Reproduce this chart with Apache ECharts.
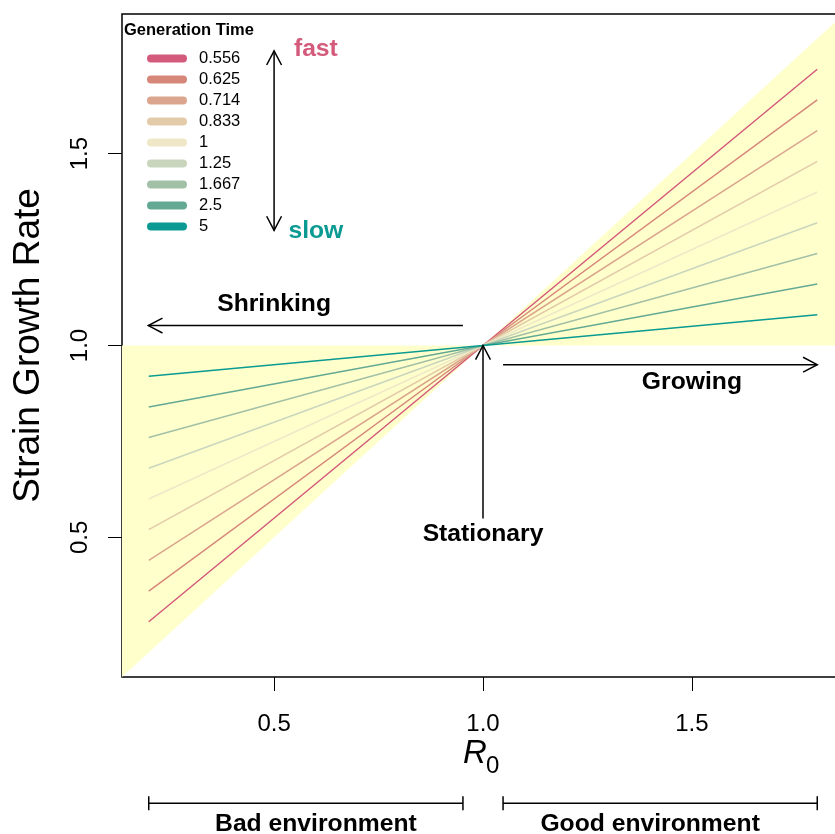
<!DOCTYPE html>
<html>
<head>
<meta charset="utf-8">
<script src="https://cdn.jsdelivr.net/npm/echarts@6/dist/echarts.min.js"></script>
<style>html,body{margin:0;padding:0;background:#fff;overflow:hidden}#c{width:835px;height:834px}</style>
</head>
<body>
<div id="c"></div>
<script>
// ---- data ----
const r0 = [0.2, 1.0, 1.8];
const genTimes = ['0.556', '0.625', '0.714', '0.833', '1', '1.25', '1.667', '2.5', '5'];
const g0556 = [0.28, 1, 1.72];
const g0625 = [0.36, 1, 1.64];
const g0714 = [0.44, 1, 1.56];
const g0833 = [0.52, 1, 1.48];
const g1000 = [0.60, 1, 1.40];
const g1250 = [0.68, 1, 1.32];
const g1667 = [0.76, 1, 1.24];
const g2500 = [0.84, 1, 1.16];
const g5000 = [0.92, 1, 1.08];
const growthSeries = [g0556, g0625, g0714, g0833, g1000, g1250, g1667, g2500, g5000];
const xTicks = [0.5, 1.0, 1.5];
const yTicks = [0.5, 1.0, 1.5];
const axisMin = 0.136, axisMax = 1.864;
// shaded regions (between y = 1 and y = R0)
const shadeLeft = [[axisMin, 1], [1, 1], [axisMin, axisMin]];
const shadeRight = [[1, 1], [axisMax, 1], [axisMax, axisMax]];
// annotation arrows: x1, y1, x2, y2, heads(1 = end, 2 = both)
const arrows = [
  [0.952, 1.052, 0.199, 1.052, 1],
  [1.048, 0.950, 1.800, 0.950, 1],
  [1.000, 0.549, 1.000, 1.000, 1],
  [0.500, 1.300, 0.500, 1.768, 2]
];
// brackets under the axis: x1, x2, y
const brackets = [[0.2, 0.952, -0.193], [1.048, 1.8, -0.193]];
const noteTexts = ['Shrinking', 'Growing', 'Stationary', 'fast', 'slow', 'Bad environment', 'Good environment'];
const noteX = [0.5, 1.5, 1.0, 0.60, 0.60, 0.6, 1.4];
const noteY = [1.107, 0.904, 0.508, 1.771, 1.297, -0.247, -0.247];
const noteColors = ['#000', '#000', '#000', '#D45A7B', '#0A9A92', '#000', '#000'];

const colors = ['#D35A7B', '#D6877A', '#DBA68D', '#E3CBAA', '#EEE8C8', '#C9D5BD', '#A2C0A6', '#64A994', '#0A9A92'];
const FONT = 'Liberation Sans, Arial, Helvetica, sans-serif';

const chart = echarts.init(document.getElementById('c'), null, {renderer: 'canvas'});

function headPts(tip, from) {
  const ang = Math.atan2(tip[1] - from[1], tip[0] - from[0]);
  const L = 16, a = Math.PI / 6.5;
  return [
    [tip[0] - L * Math.cos(ang - a), tip[1] - L * Math.sin(ang - a)],
    [tip[0], tip[1]],
    [tip[0] - L * Math.cos(ang + a), tip[1] - L * Math.sin(ang + a)]
  ];
}

const lineSeries = growthSeries.map((vals, i) => ({
  name: genTimes[i],
  type: 'line',
  data: r0.map((x, j) => [x, vals[j]]),
  showSymbol: false,
  symbol: 'none',
  lineStyle: {color: colors[i], width: 1.5},
  itemStyle: {color: colors[i]},
  silent: true,
  z: 3
}));

const option = {
  animation: false,
  backgroundColor: '#fff',
  title: {
    text: 'Generation Time', left: 124, top: 22, padding: 0,
    textStyle: {fontFamily: FONT, fontSize: 16.5, fontWeight: 'bold', color: '#000'}
  },
  legend: {
    orient: 'vertical', left: 147, top: 50, padding: 0,
    itemWidth: 40, itemHeight: 8, itemGap: 4,
    icon: 'path://M4,0 H36 A4,4 0 0 1 36,8 H4 A4,4 0 0 1 4,0 Z',
    data: genTimes,
    textStyle: {fontFamily: FONT, fontSize: 16.5, color: '#000', lineHeight: 17, padding: [0, 0, 0, 7]},
    selectedMode: false
  },
  grid: {left: 122, top: 14, width: 722, height: 663, containLabel: false, outerBoundsMode: 'none',
         show: true, borderColor: '#000', borderWidth: 1.5, backgroundColor: 'transparent'},
  xAxis: {
    type: 'value', min: axisMin, max: axisMax,
    axisLine: {show: false}, splitLine: {show: false},
    axisTick: {show: true, inside: false, length: 14, lineStyle: {color: '#000', width: 1}, customValues: xTicks},
    axisLabel: {customValues: xTicks, margin: 35, fontFamily: FONT, fontSize: 24, color: '#000', formatter: v => v.toFixed(1)}
  },
  yAxis: {
    type: 'value', min: axisMin, max: axisMax,
    axisLine: {show: false}, splitLine: {show: false},
    axisTick: {show: true, inside: false, length: 14, lineStyle: {color: '#000', width: 1}, customValues: yTicks},
    axisLabel: {customValues: yTicks, margin: 30, rotate: 90, fontFamily: FONT, fontSize: 24, color: '#000', formatter: v => v.toFixed(1)},
    name: 'Strain Growth Rate', nameLocation: 'middle', nameRotate: 90, nameGap: 75,
    nameTextStyle: {fontFamily: FONT, fontSize: 37, color: '#000'}
  },
  graphic: [
    {type: 'text', left: 463, top: 737, style: {text: 'R', font: 'italic 33px ' + FONT, fill: '#000'}},
    {type: 'text', left: 486, top: 754, style: {text: '0', font: '24px ' + FONT, fill: '#000'}}
  ],
  series: [
    {
      type: 'custom', name: 'shade', silent: true, clip: true, z: 1,
      data: [0, 1],
      renderItem: (params, api) => {
        const poly = params.dataIndex === 0 ? shadeLeft : shadeRight;
        return {type: 'polygon', shape: {points: poly.map(p => api.coord(p))}, style: {fill: '#FFFFCC', stroke: null}};
      }
    },
    ...lineSeries,
    {
      type: 'custom', name: 'arrows', silent: true, clip: false, z: 5,
      data: arrows,
      renderItem: (params, api) => {
        const p1 = api.coord([api.value(0), api.value(1)]);
        const p2 = api.coord([api.value(2), api.value(3)]);
        const heads = api.value(4);
        const st = {stroke: '#000', lineWidth: 1.5, fill: null};
        const ch = [{type: 'line', shape: {x1: p1[0], y1: p1[1], x2: p2[0], y2: p2[1]}, style: st}];
        ch.push({type: 'polyline', shape: {points: headPts(p2, p1)}, style: st});
        if (heads === 2) ch.push({type: 'polyline', shape: {points: headPts(p1, p2)}, style: st});
        return {type: 'group', children: ch};
      }
    },
    {
      type: 'custom', name: 'brackets', silent: true, clip: false, z: 5,
      data: brackets,
      renderItem: (params, api) => {
        const a = api.coord([api.value(0), api.value(2)]);
        const b = api.coord([api.value(1), api.value(2)]);
        const st = {stroke: '#000', lineWidth: 1.5};
        return {type: 'group', children: [
          {type: 'line', shape: {x1: a[0], y1: a[1], x2: b[0], y2: b[1]}, style: st},
          {type: 'line', shape: {x1: a[0], y1: a[1] - 7, x2: a[0], y2: a[1] + 7}, style: st},
          {type: 'line', shape: {x1: b[0], y1: b[1] - 7, x2: b[0], y2: b[1] + 7}, style: st}
        ]};
      }
    },
    {
      type: 'custom', name: 'notes', silent: true, clip: false, z: 6,
      data: noteX.map((x, i) => [x, noteY[i]]),
      renderItem: (params, api) => {
        const p = api.coord([api.value(0), api.value(1)]);
        const i = params.dataIndex;
        return {type: 'text', x: p[0], y: p[1], style: {
          text: noteTexts[i], font: 'bold 24.7px ' + FONT, fill: noteColors[i], align: 'center', verticalAlign: 'middle'
        }};
      }
    }
  ]
};
chart.setOption(option);
</script>
</body>
</html>
